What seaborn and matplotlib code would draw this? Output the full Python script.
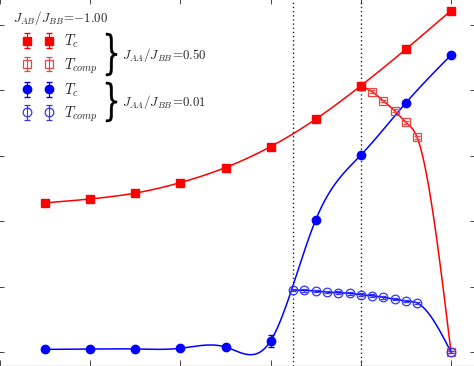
import numpy as np
import pandas as pd
import matplotlib
matplotlib.use("Agg")
import matplotlib.pyplot as plt
import seaborn as sns
from matplotlib.textpath import TextPath
from matplotlib.patches import PathPatch
from matplotlib.font_manager import FontProperties
from matplotlib.transforms import Affine2D, IdentityTransform

# ---------------- data ----------------
x_tc = [0.5, 1.0, 1.5, 2.0, 2.5, 3.0, 3.5, 4.0, 4.5, 5.0]
red_tc = [2.28, 2.34, 2.43, 2.59, 2.82, 3.14, 3.56, 4.07, 4.63, 5.22]
red_tc_err = [0.03, 0.03, 0.03, 0.03, 0.03, 0.03, 0.03, 0.03, 0.03, 0.03]

x_red_comp = [4.0, 4.125, 4.25, 4.375, 4.5, 4.625, 5.0]
red_comp = [4.07, 3.98, 3.84, 3.69, 3.51, 3.28, 0.0]
red_comp_err = [0.02, 0.02, 0.02, 0.02, 0.02, 0.02, 0.02]

blue_tc = [0.04, 0.046, 0.046, 0.057, 0.076, 0.17, 2.02, 3.01, 3.81, 4.54]
blue_tc_err = [0.02, 0.02, 0.02, 0.02, 0.03, 0.09, 0.03, 0.03, 0.03, 0.03]

x_blue_comp = [3.25, 3.375, 3.5, 3.625, 3.75, 3.875, 4.0, 4.125, 4.25,
               4.375, 4.5, 4.625, 5.0]
blue_comp = [0.948, 0.943, 0.933, 0.917, 0.907, 0.897, 0.876, 0.861, 0.836,
             0.810, 0.780, 0.749, 0.0]
blue_comp_err = [0.02] * 13

vlines_x = [3.25, 4.0]

title_txt = r"$J_{AB}/J_{BB}\!=\!{-}1.00$"
group_txt = [r"$J_{AA}/J_{BB}\!=\!0.50$", r"$J_{AA}/J_{BB}\!=\!0.01$"]
lab_tc = r"$T_c$"
lab_comp = r"$T_{comp}$"


def natural_spline(x, y, n=300):
    x = np.asarray(x, float)
    y = np.asarray(y, float)
    m = len(x)
    h = np.diff(x)
    A = np.zeros((m, m))
    b = np.zeros(m)
    A[0, 0] = 1.0
    A[-1, -1] = 1.0
    for i in range(1, m - 1):
        A[i, i - 1] = h[i - 1]
        A[i, i] = 2 * (h[i - 1] + h[i])
        A[i, i + 1] = h[i]
        b[i] = 6 * ((y[i + 1] - y[i]) / h[i] - (y[i] - y[i - 1]) / h[i - 1])
    M = np.linalg.solve(A, b)
    xs = np.linspace(x[0], x[-1], n)
    i = np.clip(np.searchsorted(x, xs) - 1, 0, m - 2)
    hi = h[i]
    s = (M[i] * (x[i + 1] - xs) ** 3 / (6 * hi)
         + M[i + 1] * (xs - x[i]) ** 3 / (6 * hi)
         + (y[i] / hi - M[i] * hi / 6) * (x[i + 1] - xs)
         + (y[i + 1] / hi - M[i + 1] * hi / 6) * (xs - x[i]))
    return xs, s


# ---------------- figure ----------------
sns.set_theme(style="white")
plt.rcParams["mathtext.fontset"] = "cm"
plt.rcParams["font.family"] = ["DejaVu Serif"]

W, H = 474, 366
fig = plt.figure(figsize=(W / 100, H / 100), dpi=100)
Lx, Rx, Ty, By = -2.0, 476.0, -2.0, 365.5
ax = fig.add_axes([Lx / W, (H - By) / H, (Rx - Lx) / W, (By - Ty) / H])
SX, SY0, SY = 90.2, 352.0, 65.4
ax.set_xlim(Lx / SX, Rx / SX)
ax.set_ylim((SY0 - By) / SY, (SY0 - Ty) / SY)

RED = "#ff0000"
BLUE = "#0000ff"
LRED = "#ee4444"
LBLUE = "#3333ff"

curves = []
for name, xx, yy in [("rtc", x_tc, red_tc),
                     ("rcomp", x_red_comp, red_comp),
                     ("btc", x_tc, blue_tc),
                     ("bcomp", x_blue_comp, blue_comp)]:
    xs, ys = natural_spline(xx, yy)
    curves.append(pd.DataFrame({"x": xs, "y": ys, "series": name}))
curves = pd.concat(curves, ignore_index=True)
sns.lineplot(data=curves, x="x", y="y", hue="series", sort=False,
             palette={"rtc": RED, "rcomp": RED, "btc": BLUE, "bcomp": BLUE},
             linewidth=1.1, legend=False, ax=ax, zorder=2)

for vx in vlines_x:
    ax.axvline(vx, color="#222222", linestyle=(0, (1, 2)), linewidth=1.0, zorder=1)

eb_rtc = ax.errorbar(x_tc, red_tc, yerr=red_tc_err, fmt="s", color=RED,
                     markersize=5.8, capsize=2.5, elinewidth=0.8, zorder=4)
eb_rcomp = ax.errorbar(x_red_comp, red_comp, yerr=red_comp_err, fmt="s",
                       color=LRED, mfc="none", mec=LRED, mew=0.9,
                       markersize=5.2, capsize=2.5, elinewidth=0.8, zorder=3)
eb_btc = ax.errorbar(x_tc, blue_tc, yerr=blue_tc_err, fmt="o", color=BLUE,
                     markersize=6.0, capsize=2.5, elinewidth=0.8, zorder=4)
eb_bcomp = ax.errorbar(x_blue_comp, blue_comp, yerr=blue_comp_err, fmt="o",
                       color=LBLUE, mfc="none", mec=LBLUE, mew=0.9,
                       markersize=6.2, capsize=2.5, elinewidth=0.8, zorder=3)

ax.set_xticks([0, 1, 2, 3, 4, 5])
ax.set_yticks([0, 1, 2, 3, 4, 5])
ax.tick_params(direction="in", length=4, width=0.7, colors="#444444",
               top=True, right=True, bottom=True, left=True,
               labelbottom=False, labelleft=False)
for sp in ax.spines.values():
    sp.set_color("#bbbbbb")
    sp.set_linewidth(1.0)
ax.set_xlabel("")
ax.set_ylabel("")

leg = ax.legend([eb_rtc, eb_rcomp, eb_btc, eb_bcomp],
                [lab_tc, lab_comp, lab_tc, lab_comp],
                title=title_txt, numpoints=2, frameon=False, fontsize=10.5,
                title_fontsize=9.3, handlelength=2.1, handletextpad=0.75,
                labelspacing=0.4, borderpad=0.0, borderaxespad=0.0,
                loc="upper left",
                bbox_to_anchor=(13 / W, 1 - 9 / H),
                bbox_transform=fig.transFigure)

# braces and group labels (figure pixel coordinates, origin top-left)
prop = FontProperties(family="DejaVu Serif")
tp = TextPath((0, 0), "}", size=1, prop=prop)
ext = tp.get_extents()
for (x0, x1, y0, y1), txt in zip([(106, 117, 33, 76), (106, 117, 82, 122)], group_txt):
    tr = (Affine2D().translate(-ext.x0, -ext.y0)
          .scale((x1 - x0) / ext.width, (y1 - y0) / ext.height)
          .translate(x0, H - y1))
    patch = PathPatch(tr.transform_path(tp), facecolor="black",
                      edgecolor="black", linewidth=0.3,
                      transform=IdentityTransform())
    fig.add_artist(patch)
    fig.text(122 / W, 1 - ((y0 + y1) / 2) / H, txt, fontsize=9.3,
             ha="left", va="center")

fig.savefig("out.png", dpi=100)
